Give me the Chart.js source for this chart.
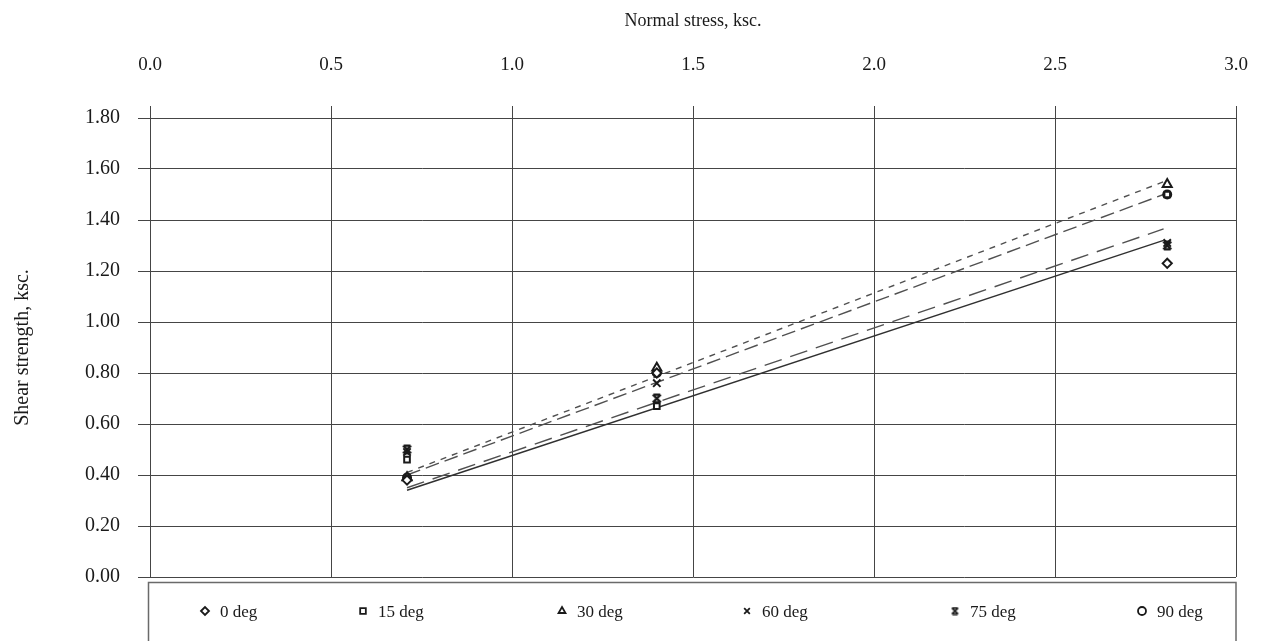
<!DOCTYPE html>
<html>
<head>
<meta charset="utf-8">
<script src="https://cdn.jsdelivr.net/npm/chart.js@4/dist/chart.umd.min.js"></script>
<style>
  html, body { margin: 0; padding: 0; background: #fff; }
  #wrap { width: 1267px; height: 641px; position: relative; }
</style>
</head>
<body>
<div id="wrap"><canvas id="c" width="1267" height="641"></canvas></div>
<script>
// Direct shear results: normal stress (ksc) vs shear strength (ksc) per joint angle
const normalStress = [0.71, 1.40, 2.81];
const seriesNames = ['0 deg', '15 deg', '30 deg', '60 deg', '75 deg', '90 deg'];
const shear0deg  = [0.38, 0.80, 1.23];
const shear15deg = [0.46, 0.67, 1.50];
const shear30deg = [0.39, 0.82, 1.54];
const shear60deg = [0.49, 0.76, 1.31];
const shear75deg = [0.50, 0.70, 1.30];
const shear90deg = [0.39, 0.80, 1.50];

// Fitted strength envelopes (end values over the tested stress range)
const trendStress = [0.71, 2.80];
const trend30deg = [0.41, 1.55];
const trend90deg = [0.40, 1.50];
const trend75deg = [0.35, 1.365];
const trend60deg = [0.34, 1.32];

const xTickValues = [0, 0.5, 1.0, 1.5, 2.0, 2.5, 3.0];
const yTickValues = [0, 0.2, 0.4, 0.6, 0.8, 1.0, 1.2, 1.4, 1.6, 1.8];

const SERIF = "'Liberation Serif', 'DejaVu Serif', serif";
const INK = '#1a1a1a';
const GRID = '#454545';

// Asterisk-type marker: an x crossed by a vertical stroke
function asteriskMarker(size, lw) {
  const c = document.createElement('canvas');
  c.width = size; c.height = size;
  const g = c.getContext('2d');
  const p = lw / 2 + 0.5, q = size - p;
  g.strokeStyle = INK;
  g.lineWidth = lw;
  g.lineCap = 'butt';
  g.beginPath();
  g.moveTo(p, p); g.lineTo(q, q);
  g.moveTo(q, p); g.lineTo(p, q);
  g.moveTo(p + 0.5, p); g.lineTo(q - 0.5, p);
  g.moveTo(p + 0.5, q); g.lineTo(q - 0.5, q);
  g.stroke();
  return c;
}
const asteriskPlot = asteriskMarker(11, 2.2);
const asteriskLegend = asteriskMarker(9, 1.8);

const markerStyles = ['rectRot', 'rect', 'triangle', 'crossRot', asteriskPlot, 'circle'];
const markerRadius = [4.6, 4, 5.2, 5.2, 5.5, 4];
const seriesValues = [shear0deg, shear15deg, shear30deg, shear60deg, shear75deg, shear90deg];

function toPoints(xs, ys) { return xs.map((x, i) => ({ x: x, y: ys[i] })); }

const markerSets = seriesNames.map((name, i) => ({
  label: name,
  data: toPoints(normalStress, seriesValues[i]),
  pointStyle: markerStyles[i],
  pointRadius: markerRadius[i],
  pointHoverRadius: markerRadius[i],
  pointBorderWidth: 2,
  pointBorderColor: INK,
  pointBackgroundColor: '#fff',
  showLine: false,
  order: 0
}));

function trendSet(ys, dash, color, width) {
  return {
    label: '',
    data: toPoints(trendStress, ys),
    showLine: true,
    pointRadius: 0,
    borderColor: color,
    borderWidth: width,
    borderDash: dash,
    order: 1
  };
}

const trendSets = [
  trendSet(trend30deg, [6, 6], '#505050', 1.4),
  trendSet(trend90deg, [14, 6], '#505050', 1.4),
  trendSet(trend75deg, [18, 9], '#505050', 1.4),
  trendSet(trend60deg, [], '#303030', 1.5)
];

// Boxed legend along the bottom of the plot, marker + label per series
const legendSlotX = [205, 363, 562, 747, 955, 1142];
const boxedLegend = {
  id: 'boxedLegend',
  afterDraw(chart) {
    const ctx = chart.ctx;
    const area = chart.chartArea;
    ctx.save();
    ctx.strokeStyle = '#6a6a6a';
    ctx.lineWidth = 1.5;
    ctx.strokeRect(area.left - 1.5, area.bottom + 5.5, area.right - area.left + 1.5, 80);
    const y = area.bottom + 36;
    ctx.font = '17px ' + SERIF;
    ctx.textBaseline = 'middle';
    ctx.textAlign = 'left';
    markerSets.forEach((ds, i) => {
      const mx = legendSlotX[i];
      ctx.fillStyle = '#fff';
      ctx.strokeStyle = INK;
      ctx.lineWidth = 1.8;
      if (typeof ds.pointStyle === 'string') {
        Chart.helpers.drawPoint(ctx, {
          pointStyle: ds.pointStyle,
          radius: 4,
          borderWidth: 1.8,
          rotation: 0
        }, mx, y - 2);
      } else {
        ctx.drawImage(asteriskLegend, mx - 4.5, y - 6.5);
      }
      ctx.fillStyle = INK;
      ctx.fillText(ds.label, mx + 15, y);
    });
    ctx.restore();
  }
};

const chart = new Chart(document.getElementById('c'), {
  type: 'scatter',
  data: { datasets: [...trendSets, ...markerSets] },
  options: {
    responsive: false,
    devicePixelRatio: 1,
    animation: false,
    layout: { padding: { left: 0, right: 31, top: 0, bottom: 64 } },
    plugins: {
      legend: { display: false },
      tooltip: { enabled: false }
    },
    scales: {
      x: {
        type: 'linear',
        position: 'top',
        min: 0,
        max: 3,
        afterBuildTicks(scale) { scale.ticks = xTickValues.map(v => ({ value: v })); },
        afterFit(scale) {
          scale.height = 118;
          scale.paddingLeft = 0;
          scale.paddingRight = 0;
        },
        ticks: {
          padding: 30,
          color: INK,
          font: { family: SERIF, size: 19 },
          callback: v => Number(v).toFixed(1)
        },
        grid: { color: GRID, lineWidth: 1, tickLength: 12, drawTicks: true },
        border: { display: true, color: GRID, width: 1 },
        title: {
          display: true,
          text: 'Normal stress, ksc.',
          color: INK,
          font: { family: SERIF, size: 18 },
          padding: { top: 10, bottom: 0 }
        }
      },
      y: {
        type: 'linear',
        min: 0,
        max: 1.8,
        afterBuildTicks(scale) { scale.ticks = yTickValues.map(v => ({ value: v })); },
        afterFit(scale) { scale.width = 150; },
        ticks: {
          padding: 18,
          color: INK,
          font: { family: SERIF, size: 20 },
          callback: v => Number(v).toFixed(2)
        },
        grid: { color: GRID, lineWidth: 1, tickLength: 12, drawTicks: true },
        border: { display: true, color: GRID, width: 1 },
        title: {
          display: true,
          text: 'Shear strength, ksc.',
          color: INK,
          font: { family: SERIF, size: 20 },
          padding: { top: 11, bottom: 0 }
        }
      }
    }
  },
  plugins: [boxedLegend]
});
</script>
</body>
</html>
